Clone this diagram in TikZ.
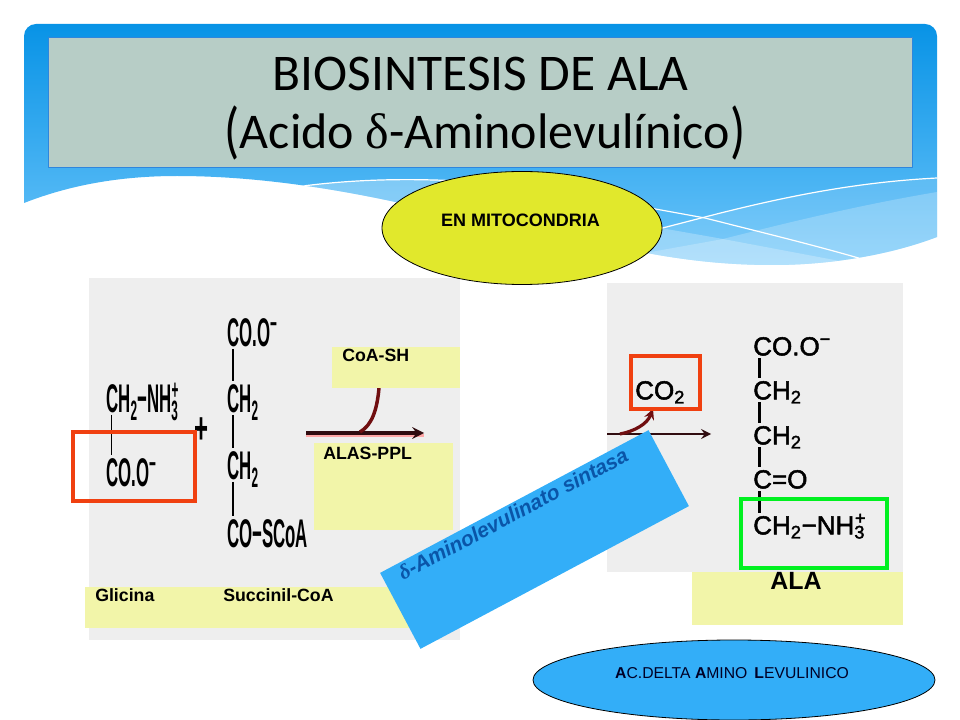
\documentclass[tikz,border=0pt]{standalone}
\usepackage{fontspec}
\setmainfont{Liberation Sans}
\newfontfamily\titlefont{Carlito}
\newfontfamily\deltafont{Liberation Serif}
\newfontfamily\chemfont[FakeBold=2]{Liberation Sans}
\usetikzlibrary{shapes.geometric,arrows.meta}
\definecolor{seablue}{HTML}{0893E6}
\definecolor{skyblue}{HTML}{6CC5FA}
\definecolor{titlegreen}{HTML}{B7CDC6}
\definecolor{titleedge}{HTML}{2F86DC}
\definecolor{panelgray}{HTML}{EEEEEE}
\definecolor{notecolor}{HTML}{F2F5A9}
\definecolor{lemon}{HTML}{E1E82C}
\definecolor{bluefill}{HTML}{33AEF8}
\definecolor{redbox}{HTML}{F04010}
\definecolor{greenbox}{HTML}{00F020}
\definecolor{arrowdark}{HTML}{300C10}
\definecolor{arrowred}{HTML}{700E10}
\definecolor{enzymeblue}{HTML}{0A55A8}
\newcommand{\wavepath}{(24,203) [rounded corners=9pt] -- (24,24) -- (937,24) -- (937,100) [sharp corners] -- (937,237)
	.. controls (890,255) and (830,265) .. (773,265)
	.. controls (730,265) and (690,261) .. (647,253)
	.. controls (570,240) and (480,222) .. (400,203)
	.. controls (340,190) and (260,176) .. (177,176)
	.. controls (120,176) and (70,185) .. (24,203)}
\newcommand{\narrow}[1]{\scalebox{.42}[1]{#1}}
\newcommand{\ammonium}{\textsubscript{\rlap{3}}\textsuperscript{+}}
\begin{document}
\begin{tikzpicture}[x=.75pt, y=-.75pt, line join=round, >=stealth,
	panel/.style={fill=panelgray},
	note/.style={fill=notecolor},
	markbox/.style={draw=redbox, line width=2.4pt, line join=miter},
	lbl/.style={font=\bfseries\fontsize{13.3}{16}\selectfont, anchor=west, inner sep=0pt},
	chemL/.style={font=\bfseries\fontsize{30}{32}\selectfont, anchor=west, inner sep=0pt, text height=21pt, text depth=0pt},
	chemR/.style={font=\chemfont\fontsize{19.5}{22}\selectfont, anchor=west, inner sep=0pt, text height=14pt, text depth=0pt},
	bondL/.style={line width=1.3pt, shorten >=2pt, shorten <=2pt},
	bondR/.style={line width=1.8pt, shorten >=2pt, shorten <=2pt},
	titleline/.style={font=\titlefont\fontsize{38.6}{40}\selectfont, inner sep=0pt},
	]
	\useasboundingbox (0,0) rectangle (960,720);
	% slide background
	\shade[top color=seablue, bottom color=skyblue] \wavepath;
	\begin{scope}
		\clip \wavepath;
		\fill[white, opacity=.3] (303,186) .. controls (350,180) and (400,178) .. (460,181) -- (560,270) -- (300,200) -- cycle;
		\fill[white, opacity=.12] (640,232) -- (705,217) .. controls (790,195) and (860,182) .. (937,178) -- (937,270) -- (640,270) -- cycle;
		\fill[white, opacity=.22] (937,192) .. controls (860,205) and (790,222) .. (723,239) -- (640,254) -- (640,270) -- (937,270) -- cycle;
		\fill[white, opacity=.25] (655,227) -- (723,239) -- (845,262) -- (845,270) -- (640,270) -- cycle;
		\draw[white, line width=.9pt] (303,186) .. controls (350,180) and (400,178) .. (460,181);
		\draw[white, line width=.9pt] (655,230) -- (705,217) .. controls (790,195) and (860,182) .. (937,178);
		\draw[white, line width=.9pt] (650,208) -- (705,218) .. controls (760,232) and (810,244) .. (862,259);
	\end{scope}
	\node[draw=titleedge, fill=titlegreen, line width=.6pt, minimum width=648.5pt, minimum height=97.5pt, inner sep=0pt] (titlebox) at (480.5,102) {};
	\node[titleline] (titleA) at (480.5,74) {BIOSINTESIS DE ALA};
	\node[titleline, font=\titlefont\fontsize{37.5}{40}\selectfont] (titleB) at (485,133) {\raisebox{-2pt}{\scalebox{1}[1.25]{(}}Acido {\deltafont δ}-Aminolevulínico\raisebox{-2pt}{\scalebox{1}[1.25]{)}}};
	% reaction panels
	\fill[panel] (89,278) rectangle (460,640);
	\fill[panel] (607,283) rectangle (903,572);
	% left arrow
	\coordinate (arrLa) at (306,433);
	\coordinate (arrLb) at (424,433);
	\coordinate (arrLc) at (360,432);
	\coordinate (arrLd) at (379,388);
	\draw[red!35, line width=2.6pt] ([yshift=-2pt]arrLa) -- ([yshift=-2pt]arrLb);
	\draw[->, arrowdark, line width=2.8pt] (arrLa) -- (arrLb);
	\draw[arrowred, line width=2.6pt] (arrLc) .. controls (372,425) and (377,410) .. (arrLd);
	% right arrow
	\coordinate (arrRa) at (607,434);
	\coordinate (arrRb) at (711,434);
	\coordinate (arrRc) at (620,434);
	\coordinate (arrRd) at (653,409);
	\draw[->, arrowdark, line width=2.2pt] (arrRa) -- (arrRb);
	\draw[->, arrowred, line width=2.4pt] (arrRc) .. controls (635,431) and (647,424) .. (arrRd);
	% yellow notes
	\fill[note] (332,347) rectangle (460,388);
	\fill[note] (314,443) rectangle (453,530);
	\fill[note] (85,587) rectangle (415,628);
	\fill[note] (692,572) rectangle (903,625);
	% glicina
	\node[chemL] (glyCH) at (106,398) {\narrow{CH\textsubscript{2}−NH\ammonium}};
	\node[chemL] (glyCO) at (106,472) {\narrow{CO.O\textsuperscript{−}}};
	\draw[bondL] ([xshift=4.2pt]glyCH.south west) -- ([xshift=4.2pt]glyCO.north west);
	\node[font=\bfseries\fontsize{30}{32}\selectfont, inner sep=0pt] (plus) at (202,431) {\scalebox{.6}[1.1]{+}};
	% succinil
	\node[chemL] (sucA) at (227,332) {\narrow{CO.O\textsuperscript{−}}};
	\node[chemL] (sucB) at (227,398) {\narrow{CH\textsubscript{2}}};
	\node[chemL] (sucC) at (227,465) {\narrow{CH\textsubscript{2}}};
	\node[chemL] (sucD) at (227,533) {\narrow{CO−SCoA}};
	\foreach \a/\b in {sucA/sucB, sucB/sucC, sucC/sucD}
		\draw[bondL] ([xshift=4.5pt]\a.south west) -- ([xshift=4.5pt]\b.north west);
	% ala
	\node[chemR] (alaA) at (753,346) {CO.O\textsuperscript{−}};
	\node[chemR] (alaB) at (753,390) {CH\textsubscript{2}};
	\node[chemR] (alaC) at (753,435) {CH\textsubscript{2}};
	\node[chemR] (alaD) at (753,479) {C=O};
	\node[chemR] (alaE) at (753,525) {CH\textsubscript{2}−NH\ammonium};
	\foreach \a/\b in {alaA/alaB, alaB/alaC, alaC/alaD, alaD/alaE}
		\draw[bondR] ([xshift=5pt]\a.south west) -- ([xshift=5pt]\b.north west);
	\node[chemR] (coTwo) at (635,390) {CO\textsubscript{2}};
	% labels
	\node[lbl] (coash) at (342,355) {CoA-SH};
	\node[lbl] (alas) at (323,453) {ALAS-PPL};
	\node[lbl] (glicina) at (95,595) {Glicina};
	\node[lbl] (succinil) at (223,595) {Succinil-CoA};
	\node[font=\bfseries\fontsize{18.7}{20}\selectfont, inner sep=0pt] (alaname) at (796,581) {ALA};
	% marks
	\draw[markbox] (73,432) rectangle (195,501);
	\draw[markbox] (631,356) rectangle (700,409);
	\draw[draw=greenbox, line width=2.8pt, line join=miter] (741,499) rectangle (887,568);
	% ellipses
	\node[ellipse, draw=black, fill=lemon, line width=.6pt, minimum width=210pt, minimum height=84.75pt, inner sep=0pt] (mito) at (522,228) {};
	\node[font=\bfseries\fontsize{13.5}{15}\selectfont, inner sep=0pt] (mitotext) at (520.5,220) {EN MITOCONDRIA};
	\node[ellipse, draw=black, fill=bluefill, line width=.6pt, minimum width=301.5pt, minimum height=60pt, inner sep=0pt] (delta) at (734,680) {};
	\node[font=\fontsize{11.8}{13}\selectfont, text=black!85!blue, inner sep=0pt] (deltatext) at (732,673) {\textbf{A}C.DELTA \textbf{A}MINO \,\textbf{L}EVULINICO};
	% enzyme
	\node[rotate=28, fill=bluefill, minimum width=228pt, minimum height=64.5pt, inner sep=0pt] (enzyme) at (534.5,539.5) {};
	\node[rotate=28, text=enzymeblue, font=\bfseries\itshape\fontsize{15.6}{17}\selectfont, inner sep=0pt] (enzymetext) at (513,514) {{\deltafont\itshape δ}-Aminolevulinato sintasa};
\end{tikzpicture}
\end{document}
